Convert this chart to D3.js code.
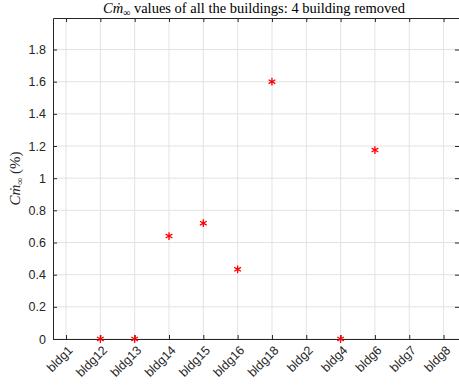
<!DOCTYPE html>
<html>
<head>
<meta charset="utf-8">
<script src="https://cdn.jsdelivr.net/npm/d3@7"></script>
<style>
  body { margin: 0; background: #fff; }
  .tick text { font-family: "Liberation Sans", Arial, sans-serif; font-size: 12.5px; fill: #262626; }
</style>
</head>
<body>
<div id="chart"></div>
<script>
// building names on the x axis
var buildings = ["bldg1", "bldg12", "bldg13", "bldg14", "bldg15", "bldg16", "bldg18", "bldg2", "bldg4", "bldg6", "bldg7", "bldg8"];
// Cm_inf values in %, null = building removed
var cmInf = [null, 0, 0, 0.64, 0.72, 0.433, 1.6, null, 0, 1.175, null, null];
var yTicks = [0, 0.2, 0.4, 0.6, 0.8, 1, 1.2, 1.4, 1.6, 1.8];

var W = 459, H = 387;
var margin = {top: 18, right: 0, bottom: 48, left: 53},
    width = W - margin.left - margin.right,
    height = H - margin.top - margin.bottom;

var x = d3.scaleLinear().domain([0.62, 12.45]).range([0, width]);
var y = d3.scaleLinear().domain([0, 1.996]).range([height, 0]);

var svg = d3.select("#chart").append("svg")
    .attr("width", W).attr("height", H)
  .append("g")
    .attr("transform", "translate(" + margin.left + "," + margin.top + ")");

var xIdx = buildings.map(function(d, i) { return i + 1; });

// grid
svg.append("g").selectAll("line.gx").data(xIdx).enter().append("line")
    .attr("x1", function(d) { return x(d); }).attr("x2", function(d) { return x(d); })
    .attr("y1", 0).attr("y2", height)
    .attr("stroke", "#e3e3e3").attr("stroke-width", 1);
svg.append("g").selectAll("line.gy").data(yTicks).enter().append("line")
    .attr("x1", 0).attr("x2", width)
    .attr("y1", function(d) { return y(d); }).attr("y2", function(d) { return y(d); })
    .attr("stroke", "#e3e3e3").attr("stroke-width", 1);

// axes (ticks inward, box on)
var xAxis = svg.append("g")
    .attr("transform", "translate(0," + height + ")")
    .call(d3.axisBottom(x).tickValues(xIdx).tickSizeInner(-4).tickSizeOuter(0)
        .tickFormat(function(d) { return buildings[d - 1]; }));
xAxis.selectAll(".tick text")
    .attr("text-anchor", "end")
    .attr("dy", 0).attr("y", 0)
    .attr("transform", "translate(7,12) rotate(-45)");

svg.append("g")
    .call(d3.axisLeft(y).tickValues(yTicks).tickSizeInner(-4).tickSizeOuter(0)
        .tickFormat(d3.format("~g")))
    .selectAll(".tick text").attr("x", -7);

svg.append("g")
    .call(d3.axisTop(x).tickValues(xIdx).tickSizeInner(-4).tickSizeOuter(0).tickFormat(""));
svg.append("g")
    .attr("transform", "translate(" + width + ",0)")
    .call(d3.axisRight(y).tickValues(yTicks).tickSizeInner(-4).tickSizeOuter(0).tickFormat(""));

svg.selectAll(".domain, .tick line").attr("stroke", "#262626");
svg.selectAll(".domain").attr("stroke-width", 1);

// markers
var pts = buildings.map(function(b, i) { return {i: i + 1, v: cmInf[i]}; })
    .filter(function(d) { return d.v !== null; });
svg.append("g").selectAll("path.pt").data(pts).enter().append("path")
    .attr("d", d3.symbol().type(d3.symbolAsterisk).size(42))
    .attr("transform", function(d) { return "translate(" + x(d.i) + "," + y(d.v) + ")"; })
    .attr("fill", "none").attr("stroke", "#ff0000").attr("stroke-width", 1.3);

// title
var title = svg.append("text")
    .attr("x", width / 2 - 2).attr("y", -5)
    .attr("text-anchor", "middle")
    .style("font-family", "'Liberation Serif', 'DejaVu Serif', serif")
    .style("font-size", "14.5px").attr("fill", "#000");
title.append("tspan").style("font-style", "italic").text("Cṁ");
title.append("tspan").attr("dy", 3).style("font-size", "10px").text("∞");
title.append("tspan").attr("dy", -3).text(" values of all the buildings: 4 building removed");

// y label
var yl = svg.append("text")
    .attr("transform", "translate(-33," + (height / 2) + ") rotate(-90)")
    .attr("text-anchor", "middle")
    .style("font-family", "'Liberation Serif', 'DejaVu Serif', serif")
    .style("font-size", "15px").attr("fill", "#262626");
yl.append("tspan").style("font-style", "italic").text("Cṁ");
yl.append("tspan").attr("dy", 3).style("font-size", "10px").text("∞");
yl.append("tspan").attr("dy", -3).text(" (%)");
</script>
</body>
</html>
